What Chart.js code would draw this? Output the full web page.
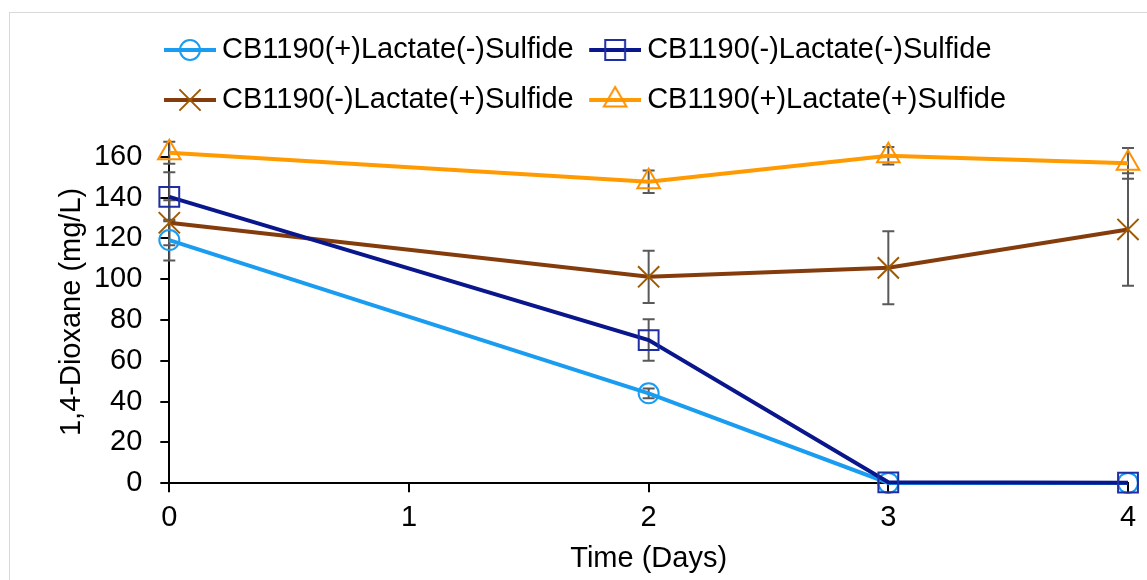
<!DOCTYPE html>
<html>
<head>
<meta charset="utf-8">
<title>1,4-Dioxane over time</title>
<script src="https://cdn.jsdelivr.net/npm/chart.js@4.4.1/dist/chart.umd.min.js"></script>
<style>
  html, body { margin: 0; padding: 0; background: #fff; overflow: hidden; }
  #wrap { position: relative; width: 1147px; height: 580px; overflow: hidden; }
  #frame { position: absolute; left: 9px; top: 12px; width: 1300px; height: 800px; border: 1px solid #d9d9d9; }
  #chart { position: absolute; left: 0; top: 0; }
</style>
</head>
<body>
<div id="wrap">
  <div id="frame"></div>
  <canvas id="chart" width="1147" height="580"></canvas>
</div>
<script>
/* sampling days and axis ticks */
const days = [0, 2, 3, 4];
const xTicks = [0, 1, 2, 3, 4];
const yTicks = [0, 20, 40, 60, 80, 100, 120, 140, 160];

const seriesNames = [
  'CB1190(+)Lactate(-)Sulfide',
  'CB1190(-)Lactate(-)Sulfide',
  'CB1190(-)Lactate(+)Sulfide',
  'CB1190(+)Lactate(+)Sulfide',
];

/* 1,4-dioxane (mg/L), with error bar half-widths */
const lacPosSulNeg = [119.2, 44.1, 0.2, 0.2];
const lacPosSulNegErr = [10, 2.4, 0, 0];
const lacNegSulNeg = [140.4, 70.2, 0.5, 0.3];
const lacNegSulNegErr = [12, 10.2, 0, 0];
const lacNegSulPos = [127.7, 101.2, 105.6, 124.4];
const lacNegSulPosErr = [11, 12.8, 17.9, 27.6];
const lacPosSulPos = [162, 147.8, 160.5, 156.8];
const lacPosSulPosErr = [5.4, 5.5, 4.3, 7.5];

const FONT = '"Liberation Sans", Arial, sans-serif';
const FS = 29;

function points(vals) {
  return vals.map((v, i) => ({ x: days[i], y: v }));
}

function series(i, vals, errs, line, marker, style, radius) {
  return {
    label: seriesNames[i],
    data: points(vals),
    errors: errs,
    borderColor: line,
    borderWidth: 4,
    tension: 0,
    pointStyle: style,
    pointRadius: radius,
    pointHoverRadius: radius,
    pointBorderWidth: 2,
    pointBorderColor: marker,
    pointBackgroundColor: 'rgba(0,0,0,0)',
    clip: false,
  };
}

const data = {
  datasets: [
    Object.assign(series(0, lacPosSulNeg, lacPosSulNegErr, '#1A9CF0', '#1A9CF0', 'circle', 10), { order: 1 }),
    series(1, lacNegSulNeg, lacNegSulNegErr, '#0A178C', '#1F2EA0', 'rect', 14),
    series(2, lacNegSulPos, lacNegSulPosErr, '#843C0C', '#A05A00', 'crossRot', 15),
    series(3, lacPosSulPos, lacPosSulPosErr, '#FF9A00', '#FF9100', 'triangle', 13),
  ],
};

/* legend icon: line with marker, like the spreadsheet legend */
const BOX_W = 38;
const TEXT_GAP = 6;
const LINE_LEN = 52;
const LEGEND_LEFT = 148.5;

function drawMarker(ctx, style, r, x, y) {
  ctx.beginPath();
  if (style === 'circle') {
    ctx.arc(x, y, r, 0, Math.PI * 2);
  } else if (style === 'rect') {
    const s = Math.SQRT1_2 * r;
    ctx.rect(x - s, y - s, 2 * s, 2 * s);
  } else if (style === 'crossRot') {
    const o = Math.SQRT1_2 * r;
    ctx.moveTo(x - o, y - o); ctx.lineTo(x + o, y + o);
    ctx.moveTo(x - o, y + o); ctx.lineTo(x + o, y - o);
  } else if (style === 'triangle') {
    let a = 0;
    ctx.moveTo(x + Math.sin(a) * r, y - Math.cos(a) * r);
    a += Math.PI * 2 / 3;
    ctx.lineTo(x + Math.sin(a) * r, y - Math.cos(a) * r);
    a += Math.PI * 2 / 3;
    ctx.lineTo(x + Math.sin(a) * r, y - Math.cos(a) * r);
    ctx.closePath();
  }
  ctx.stroke();
}

function legendIcon(ds) {
  const lineEnd = BOX_W + FS / 2 - TEXT_GAP;
  const lineStart = lineEnd - LINE_LEN;
  const c = BOX_W / 2;
  const half = Math.max(c - lineStart, lineEnd - c);
  const cv = document.createElement('canvas');
  cv.width = Math.ceil(half * 2);
  cv.height = 34;
  const ctx = cv.getContext('2d');
  const x0 = lineStart - c + half;
  const x1 = lineEnd - c + half;
  const my = cv.height / 2;
  ctx.strokeStyle = ds.borderColor;
  ctx.lineWidth = 4;
  ctx.beginPath();
  ctx.moveTo(x0, my);
  ctx.lineTo(x1, my);
  ctx.stroke();
  ctx.strokeStyle = ds.pointBorderColor;
  ctx.lineWidth = 2;
  drawMarker(ctx, ds.pointStyle, ds.pointRadius, (x0 + x1) / 2, my);
  return cv;
}

const errorBars = {
  id: 'errorBars',
  beforeDatasetsDraw(chart) {
    const { ctx, scales } = chart;
    ctx.save();
    ctx.strokeStyle = '#595959';
    ctx.lineWidth = 2;
    chart.data.datasets.forEach((ds) => {
      ds.errors.forEach((e, i) => {
        if (!e) return;
        const px = scales.x.getPixelForValue(days[i]);
        const v = ds.data[i].y;
        const top = scales.y.getPixelForValue(v + e);
        const bot = scales.y.getPixelForValue(v - e);
        ctx.beginPath();
        ctx.moveTo(px, top); ctx.lineTo(px, bot);
        ctx.moveTo(px - 6, top); ctx.lineTo(px + 6, top);
        ctx.moveTo(px - 6, bot); ctx.lineTo(px + 6, bot);
        ctx.stroke();
      });
    });
    ctx.restore();
  },
};

/* fixed legend box so the plot area and legend columns land where the original has them */
const legendBox = {
  id: 'legendBox',
  beforeInit(chart) {
    const fit = chart.legend.fit;
    chart.legend.fit = function () {
      fit.call(this);
      this.height = 126;
    };
  },
  afterLayout(chart) {
    chart.legend.left = LEGEND_LEFT;
  },
};

const axisFont = { family: FONT, size: FS };

const config = {
  type: 'line',
  data,
  options: {
    responsive: false,
    animation: false,
    events: [],
    layout: {
      padding: { top: 14.5, left: 41.5, right: 19, bottom: 0 },
    },
    plugins: {
      tooltip: { enabled: false },
      legend: {
        position: 'top',
        align: 'start',
        labels: {
          color: '#000',
          font: axisFont,
          usePointStyle: true,
          pointStyleWidth: BOX_W,
          padding: 21,
          generateLabels(chart) {
            return chart.data.datasets.map((ds, i) => ({
              text: ds.label,
              datasetIndex: i,
              hidden: false,
              pointStyle: legendIcon(ds),
              fillStyle: ds.borderColor,
              strokeStyle: ds.borderColor,
              lineWidth: 0,
              fontColor: '#000',
            }));
          },
        },
      },
    },
    scales: {
      x: {
        type: 'linear',
        min: 0,
        max: 4,
        afterBuildTicks: (s) => { s.ticks = xTicks.map((v) => ({ value: v })); },
        afterFit: (s) => { s.height = 96.7; },
        ticks: { color: '#000', font: axisFont, padding: 8, maxRotation: 0, autoSkip: false },
        grid: { drawOnChartArea: false, drawTicks: true, tickLength: 9, color: '#000', lineWidth: 2 },
        border: { color: '#000', width: 2 },
        title: {
          display: true,
          text: 'Time (Days)',
          color: '#000',
          font: axisFont,
          padding: { top: 0, bottom: 4 },
        },
      },
      y: {
        type: 'linear',
        min: 0,
        max: 168,
        afterBuildTicks: (s) => { s.ticks = yTicks.map((v) => ({ value: v })); },
        afterFit: (s) => { s.width = 127.8; },
        ticks: { color: '#000', font: axisFont, padding: 18 },
        grid: { drawOnChartArea: false, drawTicks: true, tickLength: 9, color: '#000', lineWidth: 2 },
        border: { color: '#000', width: 2 },
        title: {
          display: true,
          text: '1,4-Dioxane (mg/L)',
          color: '#000',
          font: axisFont,
          padding: { top: 13, bottom: 0 },
        },
      },
    },
  },
  plugins: [errorBars, legendBox],
};

new Chart(document.getElementById('chart'), config);
</script>
</body>
</html>
